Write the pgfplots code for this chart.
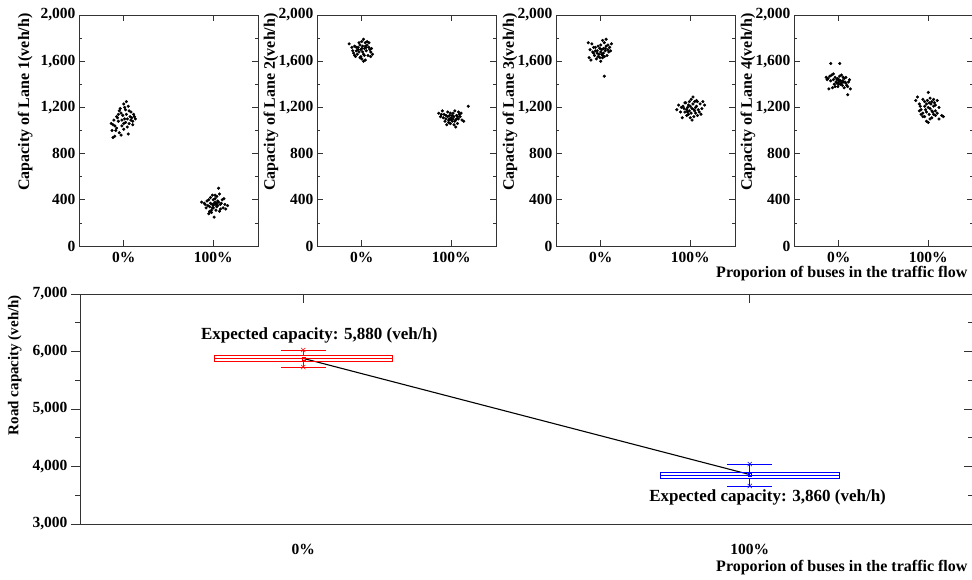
\documentclass[border=0pt]{standalone}
\usepackage{fontspec}
\setmainfont{Liberation Serif}
\usepackage{pgfplots}
\pgfplotsset{compat=1.18}
\usepgfplotslibrary{statistics}

\pgfplotsset{
  common/.style={
    scale only axis,
    axis line style={black!80, line width=0.8pt},
    every tick/.style={black!80, line width=0.7pt},
    tick label style={font=\fontsize{15.5}{16}\selectfont\bfseries},
    label style={font=\fontsize{16}{17}\selectfont\bfseries},
    /pgf/number format/.cd, 1000 sep={,}, assume math mode=true,
  },
  lane/.style={
    common,
    anchor=south west,
    width=179pt, height=231pt,
    xmin=-0.5, xmax=1.5, ymin=0, ymax=2000,
    xtick={0,1}, xticklabels={0\%,100\%},
    xticklabel style={yshift=-3pt},
    ytick={0,400,...,2000}, minor y tick num=1,
    tick align=inside,
    major tick length=6pt, minor tick length=3pt,
    ylabel style={at={(axis description cs:-0.257,0.623)}, anchor=center},
  },
  dots/.style={only marks, mark=*, mark size=1.35pt, black},
}

\begin{document}
\begin{tikzpicture}[x=1pt,y=1pt]
\path[use as bounding box] (0,0) rectangle (972,580);

% ---- lane 1
\begin{axis}[lane, at={(79pt,334pt)}, ylabel={Capacity of Lane 1(veh/h)},
  ylabel style={at={(axis description cs:-0.30,0.623)}}]
\addplot[dots] coordinates {
(-0.12,1050) (-0.08,1120) (-0.03,1150) (0.02,1180) (0.05,1210) (0.03,1250) (0.0,1230)
(-0.05,1170) (0.08,1160) (0.11,1140) (0.13,1100) (0.10,1080) (0.06,1060) (0.01,1100)
(-0.02,1090) (-0.06,1080) (-0.10,1040) (-0.14,1060) (-0.09,1000) (-0.05,980) (-0.03,960)
(-0.10,950) (-0.12,940) (0.0,1010) (0.04,1030) (0.07,1120) (0.09,1110) (-0.01,1130)
(0.02,1070) (-0.07,1110) (-0.04,1190) (0.12,1120) (0.05,970) (-0.08,1020) (0.03,1140)
(0.0,1060) (-0.11,1090) (0.06,1170) (0.01,1200) (-0.02,1040) (0.08,1090) (0.04,1100)
(-0.06,1140) (-0.13,1000) (0.10,1050)};
\addplot[dots] coordinates {
(0.87,380) (0.90,370) (0.92,330) (0.95,400) (0.97,420) (0.99,360) (1.00,350) (1.02,380)
(1.04,340) (1.05,390) (1.07,450) (1.09,370) (1.11,330) (1.13,360) (1.16,350) (1.06,500)
(1.01,250) (0.96,300) (0.98,290) (1.03,310) (1.08,320) (0.94,350) (0.99,440) (1.02,410)
(1.04,430) (0.93,390) (1.10,400) (1.00,330) (0.97,370) (1.05,350) (1.01,370) (1.03,360)
(0.96,340) (1.12,410) (1.07,300) (0.91,360) (1.00,400) (0.98,310) (1.06,380) (1.14,320)
(0.95,280) (1.02,440) (1.08,360) (0.99,330) (1.04,370)};
\end{axis}

% ---- lane 2
\begin{axis}[lane, at={(317pt,334pt)}, ylabel={Capacity of Lane 2(veh/h)}]
\addplot[dots] coordinates {
(-0.14,1750) (-0.10,1690) (-0.08,1650) (-0.06,1720) (-0.04,1700) (-0.02,1740) (0.0,1770)
(0.02,1790) (0.04,1760) (0.06,1740) (0.08,1720) (0.10,1680) (0.12,1660) (0.05,1690)
(0.03,1710) (0.01,1730) (-0.01,1700) (-0.03,1680) (-0.05,1660) (-0.07,1640) (-0.09,1670)
(0.0,1620) (0.02,1600) (0.04,1610) (-0.02,1630) (0.07,1650) (0.09,1700) (-0.11,1720)
(0.06,1770) (-0.03,1760) (0.01,1680) (0.03,1650) (-0.06,1690) (0.08,1760) (0.11,1710)
(-0.08,1730) (0.0,1710) (0.05,1720) (-0.04,1720) (0.02,1660) (-0.01,1640) (0.10,1640)
(0.04,1730)};
\addplot[dots] coordinates {
(0.86,1150) (0.88,1120) (0.90,1170) (0.92,1140) (0.94,1100) (0.96,1160) (0.98,1130)
(1.00,1110) (1.02,1150) (1.04,1170) (1.06,1130) (1.08,1100) (1.10,1120) (1.12,1090)
(1.14,1080) (1.19,1210) (1.05,1030) (1.03,1050) (0.99,1060) (0.97,1070) (0.95,1050)
(1.01,1080) (1.07,1060) (1.09,1140) (0.93,1080) (0.91,1110) (1.00,1090) (1.02,1100)
(0.98,1100) (1.04,1080) (1.06,1100) (0.96,1120) (1.08,1160) (1.11,1150) (0.94,1130)
(1.03,1120) (0.99,1150) (1.05,1090) (0.97,1090) (1.01,1130) (1.07,1120) (0.89,1140)};
\end{axis}

% ---- lane 3
\begin{axis}[lane, at={(556pt,334pt)}, ylabel={Capacity of Lane 3(veh/h)}]
\addplot[dots] coordinates {
(-0.14,1760) (-0.10,1750) (-0.12,1700) (-0.08,1670) (-0.06,1720) (-0.04,1690) (-0.02,1660)
(0.0,1740) (0.02,1780) (0.04,1760) (0.06,1730) (0.08,1700) (0.10,1720) (0.12,1750)
(0.05,1690) (0.03,1670) (0.01,1700) (-0.01,1710) (-0.03,1640) (-0.05,1620) (-0.07,1650)
(-0.09,1680) (0.0,1600) (0.02,1630) (-0.11,1610) (0.07,1650) (0.09,1680) (0.04,1470)
(0.06,1790) (-0.03,1730) (0.01,1660) (0.03,1710) (-0.06,1690) (0.08,1740) (0.11,1690)
(-0.08,1720) (0.0,1680) (0.05,1710) (-0.04,1670) (0.02,1650) (-0.01,1630) (-0.13,1630)
(0.04,1640)};
\addplot[dots] coordinates {
(0.85,1180) (0.87,1220) (0.89,1160) (0.91,1110) (0.93,1190) (0.95,1240) (0.97,1200)
(0.99,1170) (1.01,1270) (1.03,1290) (1.05,1250) (1.07,1210) (1.09,1180) (1.11,1230)
(1.13,1190) (1.16,1220) (1.02,1090) (1.00,1110) (0.98,1140) (0.96,1130) (1.04,1120)
(1.06,1150) (1.08,1130) (1.10,1160) (0.94,1160) (0.92,1210) (1.00,1210) (1.02,1190)
(0.98,1220) (1.04,1180) (1.06,1200) (0.96,1180) (1.08,1250) (1.12,1140) (0.94,1240)
(1.03,1230) (0.99,1250) (1.05,1170) (0.97,1160) (1.01,1150) (1.07,1260) (0.90,1200)
(1.14,1250)};
\end{axis}

% ---- lane 4
\begin{axis}[lane, at={(794pt,334pt)}, ylabel={Capacity of Lane 4(veh/h)}]
\addplot[dots] coordinates {
(-0.09,1580) (0.01,1580) (0.10,1310) (-0.14,1460) (-0.12,1450) (-0.10,1470) (-0.08,1480)
(-0.06,1490) (-0.04,1460) (-0.02,1440) (0.0,1420) (0.02,1400) (0.04,1430) (0.06,1450)
(0.08,1410) (0.10,1380) (0.12,1440) (0.13,1360) (-0.11,1360) (-0.07,1370) (-0.05,1400)
(-0.03,1420) (-0.01,1450) (0.01,1470) (0.03,1480) (0.05,1460) (0.07,1420) (0.09,1390)
(0.11,1420) (-0.09,1430) (-0.02,1410) (0.0,1440) (0.02,1430) (0.04,1390) (-0.04,1380)
(0.06,1370) (-0.06,1440) (0.08,1460) (0.0,1400) (-0.01,1380) (0.03,1410) (-0.13,1440)
(0.05,1420)};
\addplot[dots] coordinates {
(0.86,1260) (0.88,1290) (0.90,1230) (0.92,1180) (0.94,1270) (0.96,1210) (0.98,1160)
(1.00,1330) (1.02,1280) (1.04,1250) (1.06,1270) (1.08,1220) (1.10,1260) (1.12,1200)
(1.15,1130) (1.17,1120) (1.00,1070) (0.98,1080) (1.02,1100) (0.96,1120) (1.04,1110)
(1.06,1140) (1.08,1130) (0.94,1150) (0.92,1140) (0.90,1170) (1.00,1200) (1.02,1190)
(0.98,1230) (1.04,1170) (1.06,1210) (0.96,1250) (1.08,1170) (1.10,1150) (0.94,1120)
(1.03,1230) (0.99,1260) (1.05,1160) (0.97,1180) (1.01,1140) (1.07,1240) (0.91,1210)
(1.12,1100) (1.01,1240)};
\end{axis}

\node[anchor=east, font=\fontsize{16}{17}\selectfont\bfseries] at (971,306) {Proporion of buses in the traffic flow};

% ---- road capacity
\begin{axis}[common, anchor=south west, at={(80pt,56pt)}, width=893pt, height=230pt,
  xmin=-0.5, xmax=1.5, ymin=3000, ymax=7000,
  xtick={0,1}, xticklabels={0\%,100\%},
  ytick={3000,4000,...,7000}, minor y tick num=1,
  xtick pos=left, ytick pos=left, tick align=outside,
  major tick length=9pt, minor tick length=5pt,
  xtick style={draw=none},
  xticklabel style={yshift=-8pt},
  ylabel={Road capacity (veh/h)},
  ylabel style={at={(axis description cs:-0.073,0.691)}, anchor=center, font=\fontsize{15}{16}\selectfont\bfseries},
  boxplot/draw direction=y]
\addplot[black, line width=1.1pt] coordinates {(0,5880) (1,3860)};
\addplot[red, line width=0.8pt, boxplot prepared={draw position=0,
  lower whisker=5730, lower quartile=5835, median=5885,
  upper quartile=5939, upper whisker=6026, box extend=0.4, whisker extend=0.1}]
  coordinates {};
\addplot[red, only marks, mark=x, mark size=3pt] coordinates {(0,6026) (0,5730)};
\addplot[red, only marks, mark=square, mark size=1.5pt] coordinates {(0,5880)};
\addplot[blue, line width=0.8pt, boxplot prepared={draw position=1,
  lower whisker=3661, lower quartile=3800, median=3852,
  upper quartile=3904, upper whisker=4043, box extend=0.4, whisker extend=0.1}]
  coordinates {};
\addplot[blue, only marks, mark=x, mark size=3pt] coordinates {(1,4043) (1,3661)};
\addplot[blue, only marks, mark=square, mark size=1.5pt] coordinates {(1,3860)};
\node[font=\fontsize{17}{18}\selectfont\bfseries] at (axis cs:0.036,6287) {Expected capacity: 5,880 (veh/h)};
\node[font=\fontsize{17}{18}\selectfont\bfseries] at (axis cs:1.04,3470) {Expected capacity: 3,860 (veh/h)};
\end{axis}
% mirrored inward ticks on top and right
\begin{axis}[common, anchor=south west, at={(80pt,56pt)}, width=893pt, height=230pt,
  xmin=-0.5, xmax=1.5, ymin=3000, ymax=7000,
  xtick={0,1}, ytick={3000,4000,...,7000}, minor y tick num=1,
  xticklabels={\empty,\empty}, yticklabels={\empty,\empty,\empty,\empty,\empty},
  xtick pos=right, ytick pos=right, tick align=inside,
  major tick length=9pt, minor tick length=5pt,
  axis line style={draw=none}]
\end{axis}

\node[anchor=east, font=\fontsize{16}{17}\selectfont\bfseries] at (971,12) {Proporion of buses in the traffic flow};
\end{tikzpicture}
\end{document}
